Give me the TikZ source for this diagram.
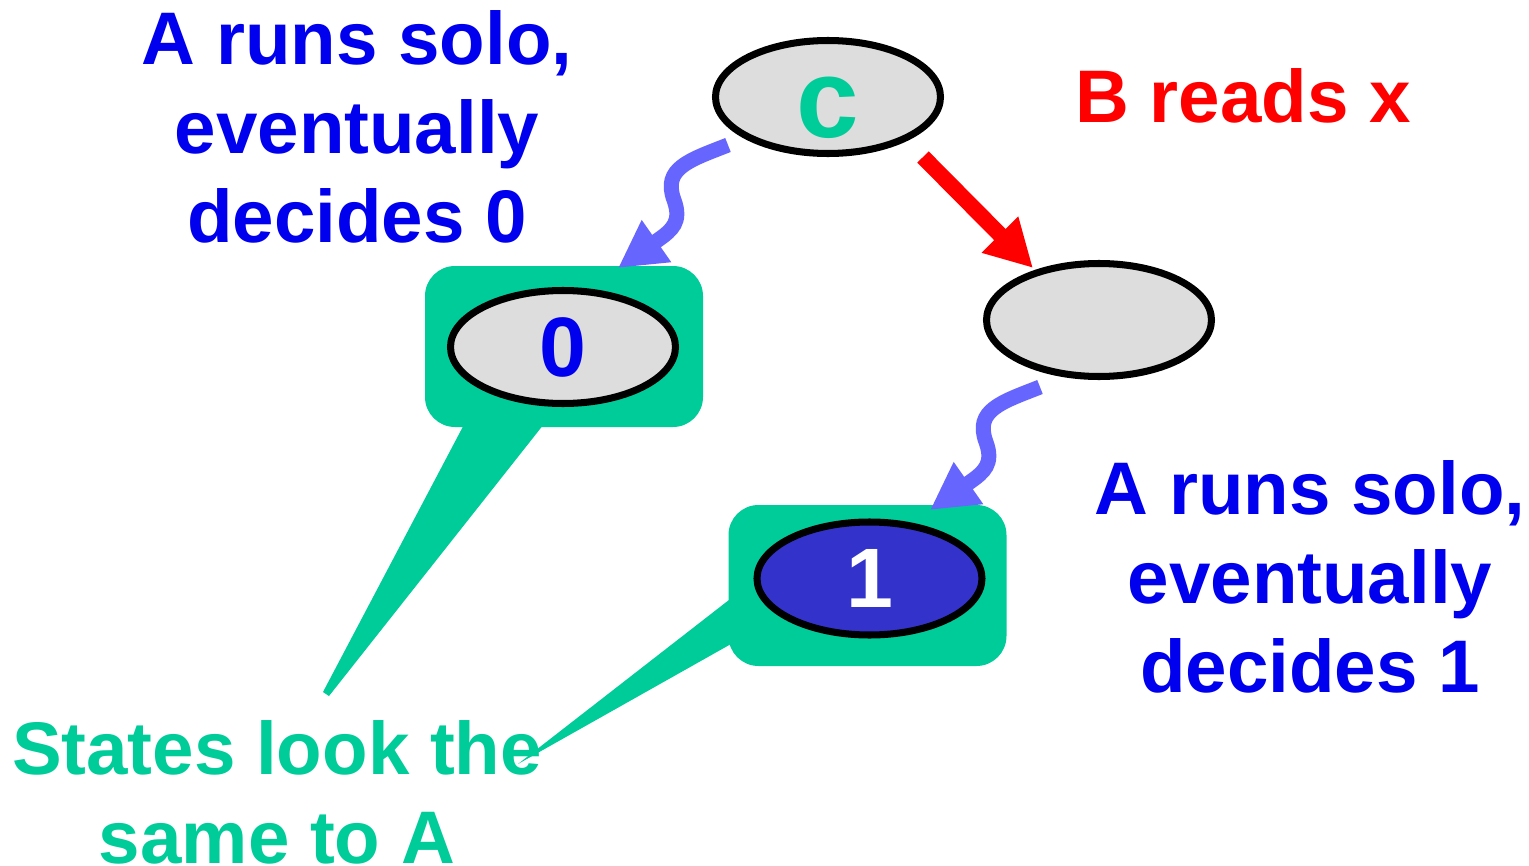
\documentclass[tikz,border=0pt]{standalone}
\usepackage{fontspec}
\setmainfont{Liberation Sans}
\usepackage{tikz}
\usetikzlibrary{positioning, arrows.meta, shapes.geometric}

\definecolor{solotext}{HTML}{0000EE}
\definecolor{callgreen}{HTML}{00CC99}
\definecolor{stategray}{HTML}{DDDDDD}
\definecolor{runblue}{HTML}{6666FF}
\definecolor{decidedblue}{HTML}{3333CC}

\begin{document}
\begin{tikzpicture}[
    >={Triangle[length=0.47cm, width=0.48cm]},
    state/.style={
        draw, ellipse, line width=2pt, fill=stategray,
        minimum width=2.25cm, minimum height=1.13cm, inner sep=0pt,
        font=\fontsize{24}{28}\selectfont\bfseries
    },
    bubble/.style={
        fill=callgreen, rounded corners=0.3cm,
        minimum width=2.78cm, minimum height=1.61cm, inner sep=0pt
    },
    tail/.style={fill=callgreen},
    solo/.style={->, line width=0.15cm, runblue},
    read/.style={->, line width=0.16cm, red},
    lbl/.style={
        font=\fontsize{21.2}{25.2}\selectfont\bfseries,
        align=center, inner sep=0pt, anchor=base
    },
]
\useasboundingbox (0,0) rectangle (15.29,-8.66);

% Callout boxes round the two decided states
\node[bubble] (box0) at (5.64,-3.465) {};
\node[bubble] (box1) at (8.675,-5.855) {};

% Callout tails, both pointing down at the caption
\coordinate (tip0a) at (3.23,-6.92);
\coordinate (tip0b) at (3.29,-6.96);
\coordinate (tip1) at (5.18,-7.64);
\fill[tail] ([xshift=-0.99cm, yshift=0.05cm]box0.south) -- (tip0a) -- (tip0b)
    -- ([xshift=-0.19cm, yshift=0.05cm]box0.south) -- cycle;
\fill[tail] ([xshift=0.05cm, yshift=-0.115cm]box1.west) -- (tip1)
    -- ([xshift=0.05cm, yshift=-0.575cm]box1.west) -- cycle;

% States: the critical one on top, its two successors below
\node[state, label={[text=callgreen, inner sep=0pt, yshift=-0.11cm,
    font=\fontsize{32}{36}\selectfont\bfseries]center:c}] (c) at (8.28,-0.97) {};
\node[state] (r) at (10.99,-3.20) {};
\node[state, text=solotext] (s0) at (5.63,-3.47) {0};
\node[state, fill=decidedblue, text=white] (s1) at (8.695,-5.785) {1};

% B reads x (straight red step)
\coordinate (readA) at (9.23,-1.57);
\coordinate (readB) at (10.33,-2.68);
\draw[read] (readA) -- (readB);

% A runs solo (wavy blue steps)
\coordinate (run0a) at (7.28,-1.45);
\coordinate (run0b) at (6.18,-2.68);
\draw[solo] (run0a) .. controls (6.90,-1.60) and (6.62,-1.68) .. (6.74,-2.00)
    .. controls (6.82,-2.22) and (6.72,-2.30) .. (6.58,-2.40) -- (run0b);

\coordinate (run1a) at (10.40,-3.87);
\coordinate (run1b) at (9.30,-5.10);
\draw[solo] (run1a) .. controls (10.02,-4.02) and (9.74,-4.10) .. (9.86,-4.42)
    .. controls (9.94,-4.64) and (9.84,-4.72) .. (9.70,-4.82) -- (run1b);

% Labels (base = baseline of the last line)
\node[lbl, text=solotext] (solo0) at (3.57,-2.42) {A runs solo,\\eventually\\decides 0};
\node[lbl, text=solotext] (solo1) at (13.10,-6.92) {A runs solo,\\eventually\\decides 1};
\node[lbl, text=red] (breads) at (12.43,-1.22) {B reads x};
\node[lbl, text=callgreen] (same) at (2.77,-8.63) {States look the\\same to A};

\end{tikzpicture}
\end{document}
